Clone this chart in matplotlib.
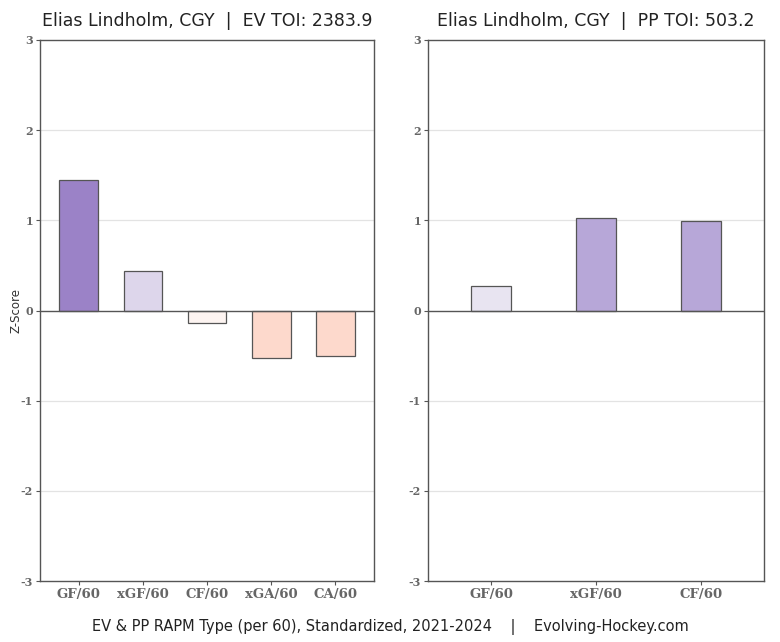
import matplotlib
matplotlib.use("Agg")
import matplotlib.pyplot as plt

ev_cats = ["GF/60", "xGF/60", "CF/60", "xGA/60", "CA/60"]
ev_vals = [1.45, 0.44, -0.14, -0.53, -0.50]
ev_colors = ["#9b82c7", "#ddd6eb", "#fdf4f1", "#fdd9cc", "#fdd9cc"]

pp_cats = ["GF/60", "xGF/60", "CF/60"]
pp_vals = [0.27, 1.03, 0.99]
pp_colors = ["#e8e4f1", "#b7a7d8", "#b7a7d8"]

ev_title = "Elias Lindholm, CGY  |  EV TOI: 2383.9"
pp_title = "Elias Lindholm, CGY  |  PP TOI: 503.2"
footer = "EV & PP RAPM Type (per 60), Standardized, 2021-2024    |    Evolving-Hockey.com"
yticks = [-3, -2, -1, 0, 1, 2, 3]

serif = ["DejaVu Serif", "Liberation Serif"]

fig = plt.figure(figsize=(7.8, 6.42), dpi=100)
ax1 = fig.add_axes([40/780, 1-581/642, 334/780, 541/642])
ax2 = fig.add_axes([428/780, 1-581/642, 336/780, 541/642])

def style(ax, cats, vals, colors, width, title):
    x = list(range(len(cats)))
    for yv in [-2, -1, 1, 2]:
        ax.axhline(yv, color="#e3e3e3", lw=0.9, zorder=0)
    ax.axhline(0, color="#555555", lw=1.0, zorder=3)
    ax.bar(x, vals, width=width, color=colors, edgecolor="#555555", linewidth=0.9, zorder=2)
    ax.set_xlim(-0.6, len(cats) - 0.4)
    ax.set_ylim(-3, 3)
    ax.set_yticks(yticks)
    ax.set_yticklabels([str(t) for t in yticks], fontsize=8, family=serif,
                       fontweight="bold", color="#666666")
    ax.set_xticks(x)
    ax.set_xticklabels(cats, fontsize=9.5, family=serif, fontweight="bold",
                       color="#666666")
    ax.tick_params(axis="both", length=3, color="#555555", width=0.8, pad=2)
    for s in ax.spines.values():
        s.set_color("#555555")
        s.set_linewidth(1.0)
    ax.set_title(title, fontsize=12.5, color="#222222", pad=10)

style(ax1, ev_cats, ev_vals, ev_colors, 0.6, ev_title)
style(ax2, pp_cats, pp_vals, pp_colors, 0.38, pp_title)
ax1.set_ylabel("Z-Score", fontsize=8.5, color="#333333", labelpad=-1)

fig.text(0.5, 1 - 627/642, footer, ha="center", va="center", fontsize=10.5, color="#222222")

fig.savefig("out.png", dpi=100, facecolor="white")
